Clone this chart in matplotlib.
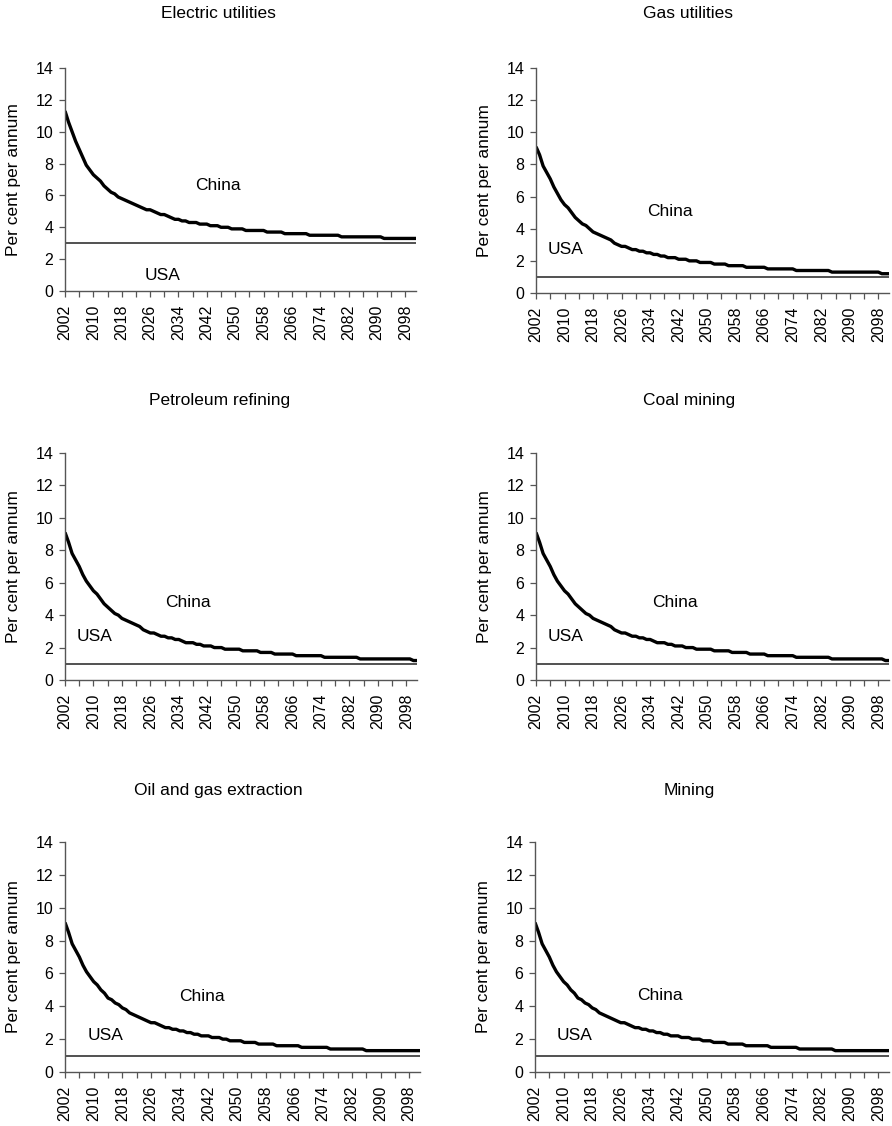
import matplotlib
matplotlib.use("Agg")
import matplotlib.pyplot as plt

plt.rcParams['font.family'] = ['Liberation Sans', 'DejaVu Sans']

years = list(range(2002, 2102))

titles = ['Electric utilities', 'Gas utilities', 'Petroleum refining',
          'Coal mining', 'Oil and gas extraction', 'Mining']

# China, per cent per annum, one value per year 2002-2101
china_electric = [
    11.3, 10.6, 10.0, 9.4, 8.9, 8.4, 7.9, 7.6, 7.3, 7.1,
    6.9, 6.6, 6.4, 6.2, 6.1, 5.9, 5.8, 5.7, 5.6, 5.5,
    5.4, 5.3, 5.2, 5.1, 5.1, 5.0, 4.9, 4.8, 4.8, 4.7,
    4.6, 4.5, 4.5, 4.4, 4.4, 4.3, 4.3, 4.3, 4.2, 4.2,
    4.2, 4.1, 4.1, 4.1, 4.0, 4.0, 4.0, 3.9, 3.9, 3.9,
    3.9, 3.8, 3.8, 3.8, 3.8, 3.8, 3.8, 3.7, 3.7, 3.7,
    3.7, 3.7, 3.6, 3.6, 3.6, 3.6, 3.6, 3.6, 3.6, 3.5,
    3.5, 3.5, 3.5, 3.5, 3.5, 3.5, 3.5, 3.5, 3.4, 3.4,
    3.4, 3.4, 3.4, 3.4, 3.4, 3.4, 3.4, 3.4, 3.4, 3.4,
    3.3, 3.3, 3.3, 3.3, 3.3, 3.3, 3.3, 3.3, 3.3, 3.3,
]
china_gas = [
    9.1, 8.6, 7.9, 7.5, 7.1, 6.6, 6.2, 5.8, 5.5, 5.3,
    5.0, 4.7, 4.5, 4.3, 4.2, 4.0, 3.8, 3.7, 3.6, 3.5,
    3.4, 3.3, 3.1, 3.0, 2.9, 2.9, 2.8, 2.7, 2.7, 2.6,
    2.6, 2.5, 2.5, 2.4, 2.4, 2.3, 2.3, 2.2, 2.2, 2.2,
    2.1, 2.1, 2.1, 2.0, 2.0, 2.0, 1.9, 1.9, 1.9, 1.9,
    1.8, 1.8, 1.8, 1.8, 1.7, 1.7, 1.7, 1.7, 1.7, 1.6,
    1.6, 1.6, 1.6, 1.6, 1.6, 1.5, 1.5, 1.5, 1.5, 1.5,
    1.5, 1.5, 1.5, 1.4, 1.4, 1.4, 1.4, 1.4, 1.4, 1.4,
    1.4, 1.4, 1.4, 1.3, 1.3, 1.3, 1.3, 1.3, 1.3, 1.3,
    1.3, 1.3, 1.3, 1.3, 1.3, 1.3, 1.3, 1.2, 1.2, 1.2,
]
china_petroleum = [
    9.1, 8.5, 7.8, 7.4, 7.0, 6.5, 6.1, 5.8, 5.5, 5.3,
    5.0, 4.7, 4.5, 4.3, 4.1, 4.0, 3.8, 3.7, 3.6, 3.5,
    3.4, 3.3, 3.1, 3.0, 2.9, 2.9, 2.8, 2.7, 2.7, 2.6,
    2.6, 2.5, 2.5, 2.4, 2.3, 2.3, 2.3, 2.2, 2.2, 2.1,
    2.1, 2.1, 2.0, 2.0, 2.0, 1.9, 1.9, 1.9, 1.9, 1.9,
    1.8, 1.8, 1.8, 1.8, 1.8, 1.7, 1.7, 1.7, 1.7, 1.6,
    1.6, 1.6, 1.6, 1.6, 1.6, 1.5, 1.5, 1.5, 1.5, 1.5,
    1.5, 1.5, 1.5, 1.4, 1.4, 1.4, 1.4, 1.4, 1.4, 1.4,
    1.4, 1.4, 1.4, 1.3, 1.3, 1.3, 1.3, 1.3, 1.3, 1.3,
    1.3, 1.3, 1.3, 1.3, 1.3, 1.3, 1.3, 1.3, 1.2, 1.2,
]
china_coal = [
    9.1, 8.5, 7.8, 7.4, 7.0, 6.5, 6.1, 5.8, 5.5, 5.3,
    5.0, 4.7, 4.5, 4.3, 4.1, 4.0, 3.8, 3.7, 3.6, 3.5,
    3.4, 3.3, 3.1, 3.0, 2.9, 2.9, 2.8, 2.7, 2.7, 2.6,
    2.6, 2.5, 2.5, 2.4, 2.3, 2.3, 2.3, 2.2, 2.2, 2.1,
    2.1, 2.1, 2.0, 2.0, 2.0, 1.9, 1.9, 1.9, 1.9, 1.9,
    1.8, 1.8, 1.8, 1.8, 1.8, 1.7, 1.7, 1.7, 1.7, 1.7,
    1.6, 1.6, 1.6, 1.6, 1.6, 1.5, 1.5, 1.5, 1.5, 1.5,
    1.5, 1.5, 1.5, 1.4, 1.4, 1.4, 1.4, 1.4, 1.4, 1.4,
    1.4, 1.4, 1.4, 1.3, 1.3, 1.3, 1.3, 1.3, 1.3, 1.3,
    1.3, 1.3, 1.3, 1.3, 1.3, 1.3, 1.3, 1.3, 1.2, 1.2,
]
china_oilgas = [
    9.1, 8.5, 7.8, 7.4, 7.0, 6.5, 6.1, 5.8, 5.5, 5.3,
    5.0, 4.8, 4.5, 4.4, 4.2, 4.1, 3.9, 3.8, 3.6, 3.5,
    3.4, 3.3, 3.2, 3.1, 3.0, 3.0, 2.9, 2.8, 2.7, 2.7,
    2.6, 2.6, 2.5, 2.5, 2.4, 2.4, 2.3, 2.3, 2.2, 2.2,
    2.2, 2.1, 2.1, 2.1, 2.0, 2.0, 1.9, 1.9, 1.9, 1.9,
    1.8, 1.8, 1.8, 1.8, 1.7, 1.7, 1.7, 1.7, 1.7, 1.6,
    1.6, 1.6, 1.6, 1.6, 1.6, 1.6, 1.5, 1.5, 1.5, 1.5,
    1.5, 1.5, 1.5, 1.5, 1.4, 1.4, 1.4, 1.4, 1.4, 1.4,
    1.4, 1.4, 1.4, 1.4, 1.3, 1.3, 1.3, 1.3, 1.3, 1.3,
    1.3, 1.3, 1.3, 1.3, 1.3, 1.3, 1.3, 1.3, 1.3, 1.3,
]
china_mining = [
    9.1, 8.5, 7.8, 7.4, 7.0, 6.5, 6.1, 5.8, 5.5, 5.3,
    5.0, 4.8, 4.5, 4.4, 4.2, 4.1, 3.9, 3.8, 3.6, 3.5,
    3.4, 3.3, 3.2, 3.1, 3.0, 3.0, 2.9, 2.8, 2.7, 2.7,
    2.6, 2.6, 2.5, 2.5, 2.4, 2.4, 2.3, 2.3, 2.2, 2.2,
    2.2, 2.1, 2.1, 2.1, 2.0, 2.0, 2.0, 1.9, 1.9, 1.9,
    1.8, 1.8, 1.8, 1.8, 1.7, 1.7, 1.7, 1.7, 1.7, 1.6,
    1.6, 1.6, 1.6, 1.6, 1.6, 1.6, 1.5, 1.5, 1.5, 1.5,
    1.5, 1.5, 1.5, 1.5, 1.4, 1.4, 1.4, 1.4, 1.4, 1.4,
    1.4, 1.4, 1.4, 1.4, 1.3, 1.3, 1.3, 1.3, 1.3, 1.3,
    1.3, 1.3, 1.3, 1.3, 1.3, 1.3, 1.3, 1.3, 1.3, 1.3,
]
china_series = [china_electric, china_gas, china_petroleum,
                china_coal, china_oilgas, china_mining]

usa_values = [3.0, 1.0, 1.0, 1.0, 1.0, 1.0]

# label anchor points (year, value)
china_label_pos = [(2045, 6.65), (2039.6, 5.1), (2036.6, 4.8),
                   (2040.9, 4.8), (2040.2, 4.57), (2037, 4.63)]
usa_label_pos = [(2029.4, 1.0), (2010.4, 2.68), (2010.4, 2.71),
                 (2010.4, 2.71), (2013.4, 2.25), (2013.2, 2.25)]

W, H = 892, 1126
fig = plt.figure(figsize=(W / 100, H / 100), dpi=100)

# axes boxes in pixels: left, top, right, bottom
boxes = [(65, 68, 416, 291), (536, 68, 889, 293),
         (65, 453, 417, 680), (536, 453, 889, 680),
         (65, 842, 420, 1072), (535, 842, 889, 1072)]
title_px = [(218, 14), (688, 14), (220, 401), (689, 401), (218, 790), (689, 790)]

for i in range(6):
    l, t, r, b = boxes[i]
    ax = fig.add_axes([l / W, 1 - b / H, (r - l) / W, (b - t) / H])
    ax.plot(years, china_series[i], color='black', lw=2.4, solid_capstyle='butt')
    ax.plot(years, [usa_values[i]] * len(years), color='#222222', lw=1.1)

    ax.set_xlim(2002, 2101)
    ax.set_ylim(0, 14)
    ax.set_yticks(range(0, 15, 2))
    ticks = list(range(2002, 2101, 4))
    ax.set_xticks(ticks)
    ax.set_xticklabels([str(y) if (y - 2002) % 8 == 0 else '' for y in ticks],
                       rotation=90, fontsize=11.5)
    ax.tick_params(axis='y', labelsize=11.5, length=4.5, width=0.9,
                   color='#555555', direction='out', pad=4)
    ax.tick_params(axis='x', length=4, width=0.9, color='#555555',
                   direction='out', pad=6)
    for s in ['top', 'right']:
        ax.spines[s].set_visible(False)
    for s in ['left', 'bottom']:
        ax.spines[s].set_color('#555555')
        ax.spines[s].set_linewidth(1.0)
    ax.set_ylabel('Per cent per annum', fontsize=12.5)
    ax.yaxis.set_label_coords(-44 / (r - l), 0.5)

    cx, cy = china_label_pos[i]
    ax.text(cx, cy, 'China', ha='center', va='center', fontsize=12.5)
    ux, uy = usa_label_pos[i]
    ax.text(ux, uy, 'USA', ha='center', va='center', fontsize=12.5)

    tx, ty = title_px[i]
    fig.text(tx / W, 1 - ty / H, titles[i], ha='center', va='center', fontsize=12.5)

fig.savefig('out.png', dpi=100)
